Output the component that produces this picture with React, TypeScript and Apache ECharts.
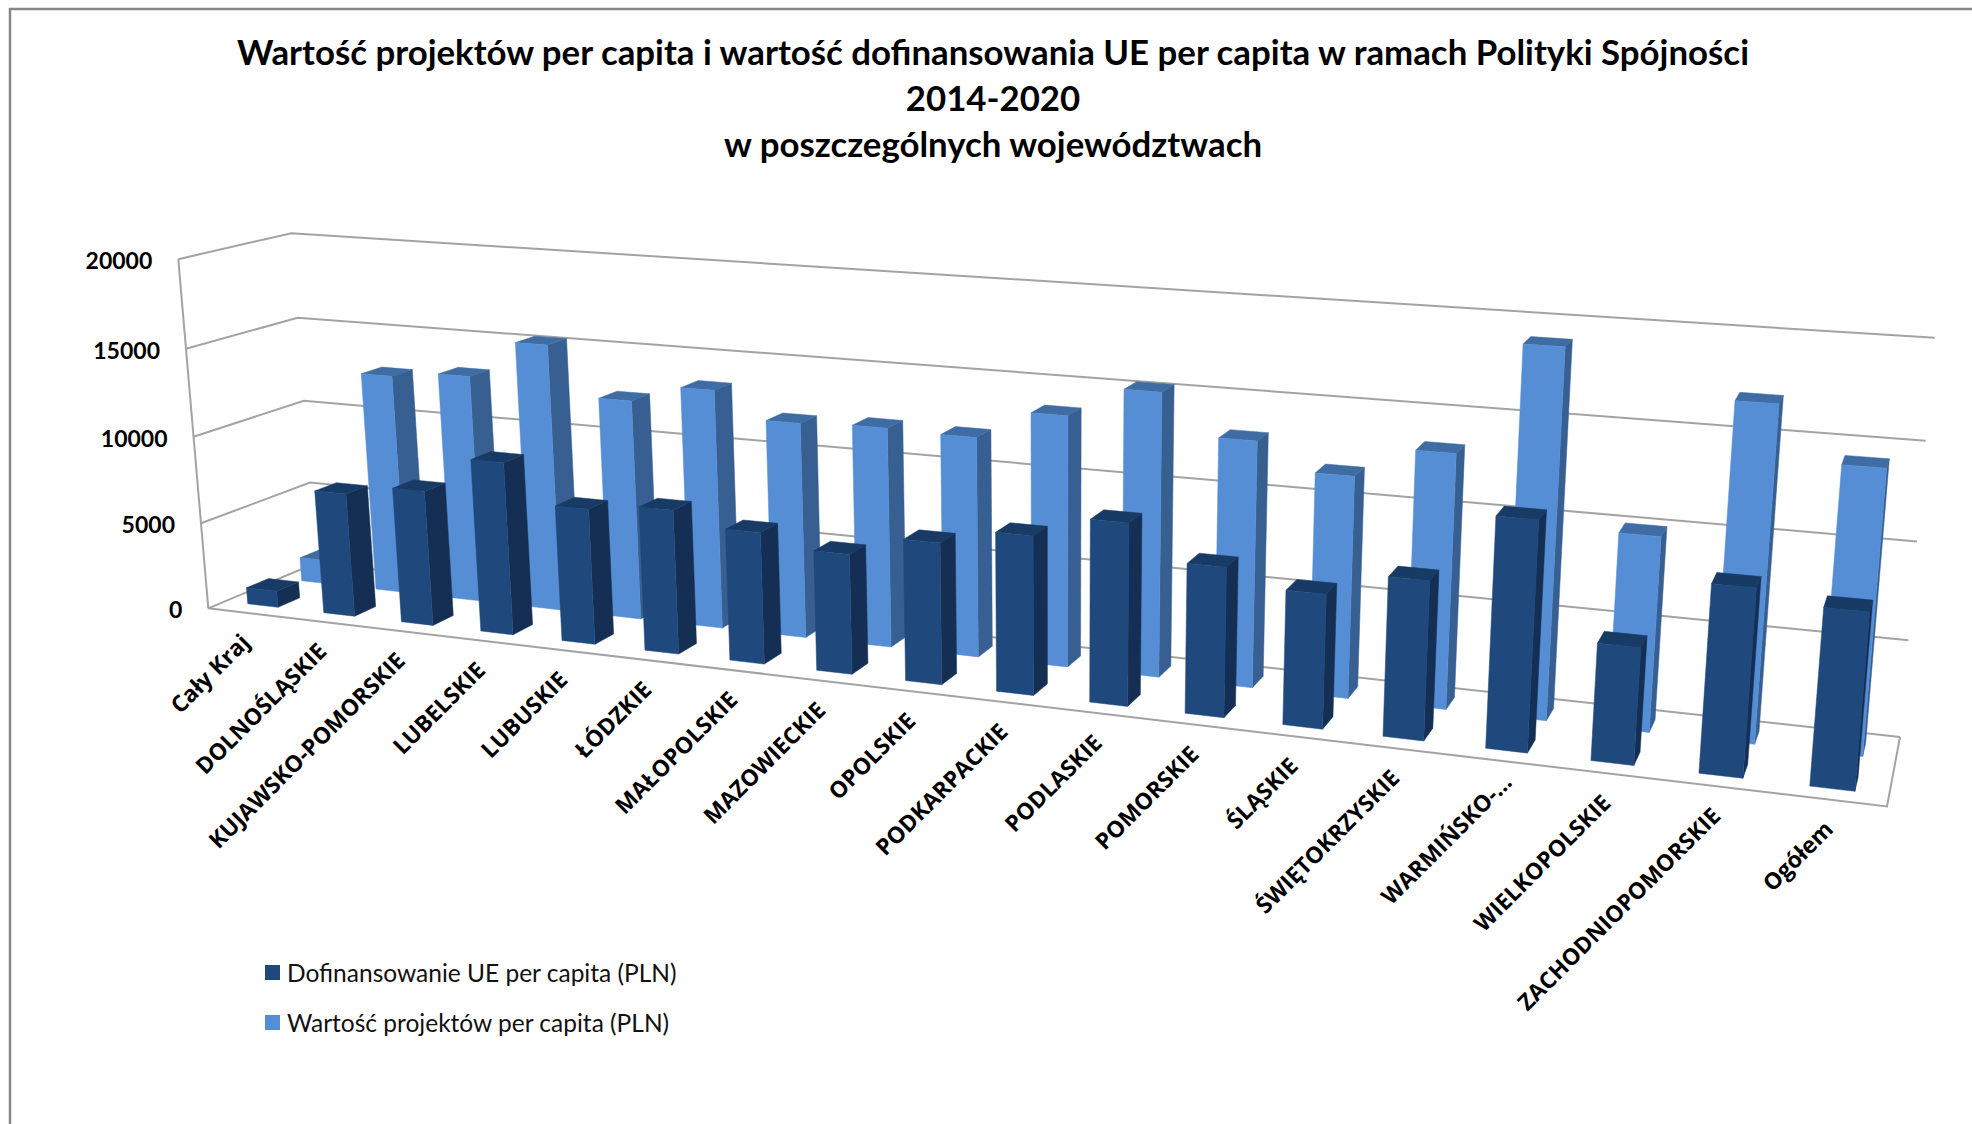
import React, { useEffect, useRef } from "react";
import * as echarts from "echarts";

const categories = ["Cały Kraj","DOLNOŚLĄSKIE","KUJAWSKO-POMORSKIE","LUBELSKIE","LUBUSKIE","ŁÓDZKIE","MAŁOPOLSKIE","MAZOWIECKIE","OPOLSKIE","PODKARPACKIE","PODLASKIE","POMORSKIE","ŚLĄSKIE","ŚWIĘTOKRZYSKIE","WARMIŃSKO-…","WIELKOPOLSKIE","ZACHODNIOPOMORSKIE","Ogółem"];
const dofinansowanie = [950,7100,7700,9750,7600,8000,7250,6550,7650,8500,9650,7850,6980,8170,11670,5900,9350,8720];
const wartoscProjektow = [1400,12800,13150,15300,12520,13500,12060,12200,12100,13670,15300,13150,11750,13350,19060,10040,17020,14320];
const yTicks = [0,5000,10000,15000,20000];
const titleLines = ["Wartość projektów per capita i wartość dofinansowania UE per capita w ramach Polityki Spójności","2014-2020","w poszczególnych województwach"];
const darkName = "Dofinansowanie UE per capita (PLN)";
const lightName = "Wartość projektów per capita (PLN)";

// Camera of the 3D box: floor corners and the vanishing point of the verticals
const FL = [208.3,608.3], FR = [1887,806.4], BR = [1900,737], BL = [316,563];
const VERT = [1056,10468], VERT_W = -0.0342;
const dx1 = FR[0]-BR[0], dx2 = BL[0]-BR[0], sx = FL[0]-FR[0]+BR[0]-BL[0];
const dy1 = FR[1]-BR[1], dy2 = BL[1]-BR[1], sy = FL[1]-FR[1]+BR[1]-BL[1];
const det = dx1*dy2-dx2*dy1;
const G = (sx*dy2-dx2*sy)/det, H = (dx1*sy-sx*dy1)/det;
const A = FR[0]-FL[0]+G*FR[0], B = BL[0]-FL[0]+H*BL[0];
const D = FR[1]-FL[1]+G*FR[1], E = BL[1]-FL[1]+H*BL[1];
function project(u:number,v:number,w:number){
  const W = G*u+H*v+1+VERT_W*w;
  return [(A*u+B*v+FL[0]+VERT_W*VERT[0]*w)/W,(D*u+E*v+FL[1]+VERT_W*VERT[1]*w)/W];
}
const LINE = "#a3a3a3";
const lineEl = (pts:number[][]) => ({type:"polyline",shape:{points:pts},style:{fill:"none",stroke:LINE,lineWidth:2}});

function toBox(params:any, api:any, cat:number, val:number){
  const cs = params.coordSys;
  const p = api.coord([cat,val]);
  return {u:(p[0]-cs.x)/cs.width, w:(cs.y+cs.height-p[1])/cs.height, halfBand:api.size([1,0])[0]/cs.width/2};
}
function barRender(v0:number,v1:number,front:string,side:string,top:string){
  return (params:any, api:any) => {
    const {u,w,halfBand} = toBox(params,api,api.value(0),api.value(1));
    const u0 = u-halfBand*0.4, u1 = u+halfBand*0.4;
    const poly = (pts:number[][],fill:string)=>({type:"polygon",shape:{points:pts},style:{fill,stroke:fill,lineWidth:0.5}});
    return {type:"group",children:[
      poly([project(u1,v0,0),project(u1,v1,0),project(u1,v1,w),project(u1,v0,w)],side),
      poly([project(u0,v0,w),project(u1,v0,w),project(u1,v1,w),project(u0,v1,w)],top),
      poly([project(u0,v0,0),project(u1,v0,0),project(u1,v0,w),project(u0,v0,w)],front),
    ]};
  };
}
const seriesData = (vals:number[]) => vals.map((v,i)=>[i,v]);

export default function App(){
  const ref = useRef<HTMLDivElement>(null);
  useEffect(()=>{
    document.body.style.margin = "0";
    const chart = echarts.init(ref.current!, undefined, {renderer:"svg"});
    chart.setOption({
      animation:false,
      backgroundColor:"#ffffff",
      title:{text:titleLines.join("\n"),left:988,top:23,textAlign:"center",
        textStyle:{fontFamily:"Lato",fontWeight:"bold",fontSize:34.8,lineHeight:46,color:"#000"}},
      legend:{orient:"vertical",left:260,top:955,itemWidth:15,itemHeight:15,itemGap:25,
        data:[{name:darkName,icon:"rect",itemStyle:{color:"#1F497D"}},{name:lightName,icon:"rect",itemStyle:{color:"#558ED5"}}],
        textStyle:{fontFamily:"Lato",fontSize:24.5,color:"#111",padding:[0,0,0,2]}},
      grid:{left:0,top:0,width:1972,height:1124},
      xAxis:{type:"category",data:categories,show:false},
      yAxis:{type:"value",min:0,max:20000,interval:5000,show:false},
      graphic:[{type:"polyline",shape:{points:[[10,1124],[10,9],[1972,9]]},style:{fill:"none",stroke:"#878787",lineWidth:2.5},z:10}],
      series:[
        {type:"custom",name:"Siatka",silent:true,encode:{x:0,y:1},clip:false,data:yTicks.map(t=>[0,t]),
          renderItem:(params:any,api:any)=>{
            const {w} = toBox(params,api,0,api.value(1));
            const children:any[] = [lineEl([project(0,0,w),project(0,1,w),project(1,1,w)])];
            if(w===0) children.push(lineEl([project(0,0,0),project(1,0,0),project(1,1,0)]));
            if(w===0) children.push(lineEl([project(0,0,0),project(0,0,1)]));
            return {type:"group",children};
          }},
        {type:"custom",name:lightName,encode:{x:0,y:1},data:seriesData(wartoscProjektow),itemStyle:{color:"#558ED5"},
          renderItem:barRender(0.65,0.85,"#558ED5","#375F91","#3F6CA3")},
        {type:"custom",name:darkName,encode:{x:0,y:1},data:seriesData(dofinansowanie),itemStyle:{color:"#1F497D"},
          renderItem:barRender(0.15,0.35,"#1F497D","#152F54","#183B66")},
        {type:"custom",name:"Osie Y",silent:true,encode:{x:0,y:1},data:yTicks.map(t=>[0,t]),
          renderItem:(params:any,api:any)=>{
            const {w} = toBox(params,api,0,api.value(1));
            const p = project(0,0,w);
            return {type:"text",x:p[0]-26,y:p[1]+1,style:{text:String(api.value(1)),align:"right",verticalAlign:"middle",fontFamily:"Lato",fontWeight:"bold",fontSize:23,fill:"#000"}};
          }},
        {type:"custom",name:"Osie X",silent:true,encode:{x:0,y:1},data:categories.map((_,i)=>[i,0]),
          renderItem:(params:any,api:any)=>{
            const i = api.value(0);
            const {u} = toBox(params,api,i,0);
            const p = project(u,0,0);
            const shift = categories[i].endsWith("…") ? 8 : 0; // truncated label sits further along the diagonal
            return {type:"text",x:p[0]-1+shift,y:p[1]+25-shift,rotation:Math.PI/4,style:{text:categories[i],align:"right",verticalAlign:"middle",fontFamily:"Open Sans",fontWeight:700,fontSize:22.8,fill:"#000"}};
          }},
      ],
    });
    return ()=>chart.dispose();
  },[]);
  return <div ref={ref} style={{position:"absolute",left:0,top:0,width:1972,height:1124}}/>;
}
